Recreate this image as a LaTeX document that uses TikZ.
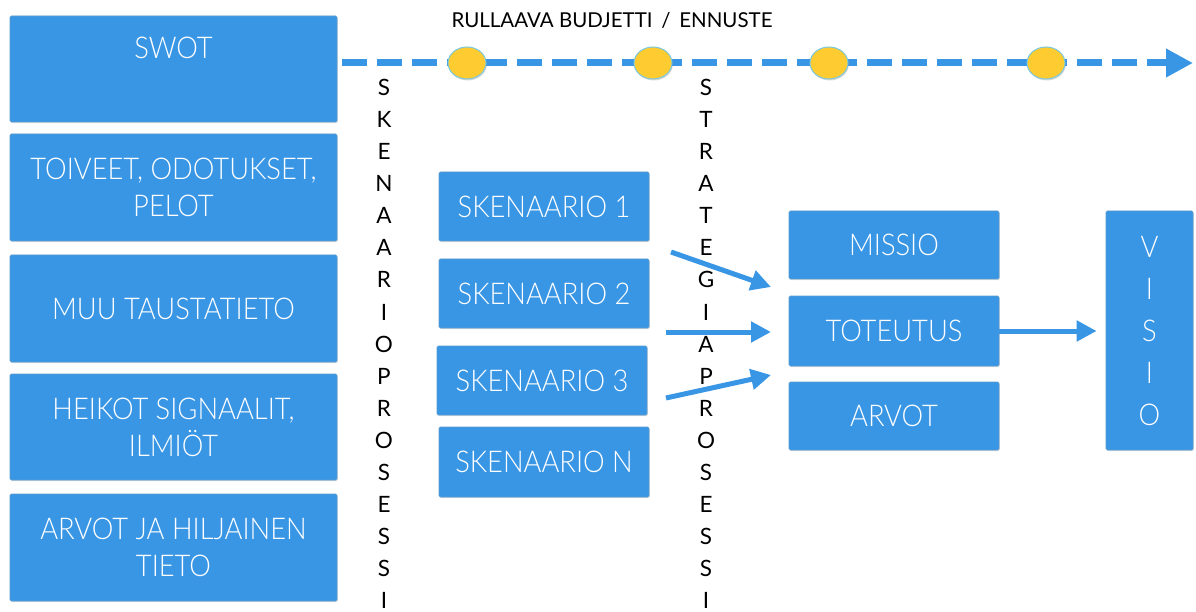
\documentclass[tikz,border=0pt]{standalone}
\usepackage{fontspec}
\setmainfont{Lato}
\newfontfamily\boxfont{Lato Light}[FakeStretch=0.91]
\newfontfamily\labfont{Lato}
\usetikzlibrary{arrows.meta,shadows,shapes.geometric}
\definecolor{boxblue}{RGB}{57,150,229}
\definecolor{boxedge}{RGB}{90,155,205}
\definecolor{dotyellow}{RGB}{254,204,48}
\definecolor{dotedge}{RGB}{120,200,225}
\tikzset{
  box/.style={fill=boxblue, draw=boxedge, line width=0.8pt, rounded corners=1.5pt,
    text=white, font=\boxfont\fontsize{30}{37}\selectfont, align=center, inner sep=0pt,
    drop shadow={shadow xshift=0.8pt, shadow yshift=-1.2pt, opacity=0.25}},
  boxtext/.style={text=white, font=\boxfont\fontsize{30}{37}\selectfont, align=center, inner sep=0pt},
  vert/.style={font=\labfont\fontsize{22.5}{32.1}\selectfont, align=center, inner sep=0pt},
  dot/.style={ellipse, minimum width=38pt, minimum height=32pt, fill=dotyellow, draw=dotedge,
    line width=1pt, drop shadow={shadow xshift=0.8pt, shadow yshift=-1.5pt, opacity=0.3}},
  arr/.style={draw=boxblue, line width=5pt, -{Triangle[length=20pt,width=20pt]}},
  timeline/.style={draw=boxblue, line width=7pt, dash pattern=on 25pt off 10pt,
    -{Triangle[length=27pt,width=27pt]}}
}
\begin{document}
\begin{tikzpicture}[x=1pt,y=-1pt]
\useasboundingbox (0,0) rectangle (1196,612);
% left column
\node[box, minimum width=327pt, minimum height=106pt] (swot) at (173.5,69) {};
\node[boxtext] (swott) at (173.5,48) {SWOT};
\node[box, minimum width=327pt, minimum height=107pt] (toiv) at (173.5,187.5) {TOIVEET, ODOTUKSET,\\PELOT};
\node[box, minimum width=327pt, minimum height=107pt] (muu) at (173.5,308.5) {MUU TAUSTATIETO};
\node[box, minimum width=327pt, minimum height=106pt] (heik) at (173.5,427) {HEIKOT SIGNAALIT,\\ILMIÖT};
\node[box, minimum width=327pt, minimum height=107pt] (arvja) at (173.5,547.5) {ARVOT JA HILJAINEN\\TIETO};
% scenarios
\node[box, minimum width=210pt, minimum height=69pt] (s1) at (544,206.5) {SKENAARIO 1};
\node[box, minimum width=210pt, minimum height=69pt] (s2) at (544,293.5) {SKENAARIO 2};
\node[box, minimum width=210pt, minimum height=69pt] (s3) at (542,380.5) {SKENAARIO 3};
\node[box, minimum width=210pt, minimum height=70pt] (sn) at (544,462) {SKENAARIO N};
% right
\node[box, minimum width=210pt, minimum height=68pt] (missio) at (894,245) {MISSIO};
\node[box, minimum width=210pt, minimum height=70pt] (tot) at (894,331) {TOTEUTUS};
\node[box, minimum width=210pt, minimum height=68pt] (arvot) at (894,416) {ARVOT};
\node[box, minimum width=87pt, minimum height=239pt, font=\boxfont\fontsize{30}{42}\selectfont] (visio) at (1149.5,330.5) {V\\I\\S\\I\\O};
% vertical labels
\node[vert] (skp) at (384,344) {S\\K\\E\\N\\A\\A\\R\\I\\O\\P\\R\\O\\S\\E\\S\\S\\I};
\node[vert] (stp) at (706,344) {S\\T\\R\\A\\T\\E\\G\\I\\A\\P\\R\\O\\S\\E\\S\\S\\I};
% title
\node[font=\labfont\fontsize{20.5}{24}\selectfont, inner sep=0pt] (title) at (612,20) {RULLAAVA BUDJETTI \,/\, ENNUSTE};
% timeline
\coordinate (tl0) at (342,63);
\coordinate (tl1) at (1193,63);
\draw[timeline] (tl0) -- (tl1);
\node[dot] (d1) at (467,63) {};
\node[dot] (d2) at (653,63) {};
\node[dot] (d3) at (829,63) {};
\node[dot] (d4) at (1046,63) {};
% arrows
\coordinate (a1s) at (671,252);
\coordinate (a1e) at (771,287);
\coordinate (a2s) at (666,332);
\coordinate (a2e) at (771,332);
\coordinate (a3s) at (666,398);
\coordinate (a3e) at (771,375);
\draw[arr] (a1s) -- (a1e);
\draw[arr] (a2s) -- (a2e);
\draw[arr] (a3s) -- (a3e);
\draw[arr, shorten >=9pt] (tot.east) -- (tot.east -| visio.west);
\end{tikzpicture}
\end{document}
